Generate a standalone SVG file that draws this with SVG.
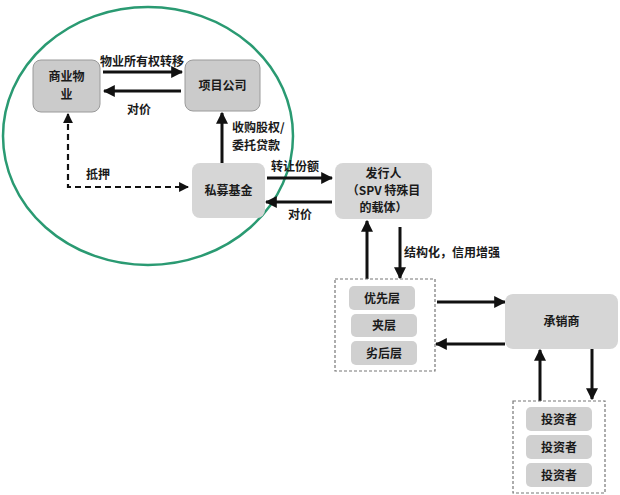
<svg xmlns="http://www.w3.org/2000/svg" width="620" height="495" viewBox="0 0 620 495">
<style>
text{font-family:"Noto Sans CJK SC","Liberation Sans",sans-serif;font-size:12px;font-weight:bold;fill:#1a1a1a;text-anchor:middle}
.lbl{text-anchor:start}
.n{fill:#cbcbcb;stroke:#9a9a9a;stroke-width:1}
.n2{fill:#d6d6d6;stroke:none}
.t{fill:#d0d0d0;stroke:none}
.box{fill:none;stroke:#777;stroke-width:1.2;stroke-dasharray:3,2}
.c{stroke:#111;stroke-width:3;fill:none}
.d{stroke:#111;stroke-width:2.2;fill:none;stroke-dasharray:6,4}
</style>
<defs>
<marker id="ah" viewBox="0 0 10 10" refX="9" refY="5" markerWidth="4" markerHeight="4" orient="auto" markerUnits="strokeWidth"><path d="M0,0L10,5L0,10z" fill="#111"/></marker>
<marker id="ahs" viewBox="0 0 10 10" refX="9" refY="5" markerWidth="4.5" markerHeight="4.5" orient="auto-start-reverse" markerUnits="strokeWidth"><path d="M0,0L10,5L0,10z" fill="#111"/></marker>
</defs>
<rect width="620" height="495" fill="#fff"/>
<ellipse cx="148" cy="136" rx="145" ry="129" fill="none" stroke="#2a9a72" stroke-width="2.5"/>
<g id="connectors">
<line class="c" x1="103" y1="72" x2="182" y2="72" marker-end="url(#ah)"/>
<line class="c" x1="181" y1="91" x2="104" y2="91" marker-end="url(#ah)"/>
<line class="c" x1="222" y1="163" x2="222" y2="113" marker-end="url(#ah)"/>
<polyline class="d" points="68,114 68,187 188,187" marker-start="url(#ahs)" marker-end="url(#ahs)"/>
<line class="c" x1="267" y1="178" x2="332" y2="178" marker-end="url(#ah)"/>
<line class="c" x1="332" y1="202" x2="266" y2="202" marker-end="url(#ah)"/>
<line class="c" x1="367" y1="279" x2="367" y2="221" marker-end="url(#ah)"/>
<line class="c" x1="400" y1="227" x2="400" y2="278" marker-end="url(#ah)"/>
<line class="c" x1="437" y1="302" x2="505" y2="302" marker-end="url(#ah)"/>
<line class="c" x1="505" y1="344" x2="436" y2="344" marker-end="url(#ah)"/>
<line class="c" x1="540" y1="401" x2="540" y2="350" marker-end="url(#ah)"/>
<line class="c" x1="592" y1="349" x2="592" y2="399" marker-end="url(#ah)"/>
<text class="lbl" x="100" y="66">物业所有权转移</text>
<text class="lbl" x="127" y="114">对价</text>
<text class="lbl" x="232" y="132">收购股权/</text>
<text class="lbl" x="232" y="150">委托贷款</text>
<text class="lbl" x="86" y="179">抵押</text>
<text class="lbl" x="271" y="171">转让份额</text>
<text class="lbl" x="288" y="219">对价</text>
<text class="lbl" x="404" y="257">结构化，信用增强</text>
</g>
<g id="n-property">
<rect class="n" x="33" y="60" width="67" height="52" rx="8"/>
<text x="66.5" y="81">商业物</text>
<text x="66.5" y="99">业</text>
</g>
<g id="n-project">
<rect class="n" x="185" y="60" width="75" height="51" rx="8"/>
<text x="222.5" y="90">项目公司</text>
</g>
<g id="n-fund">
<rect class="n2" x="192" y="163" width="73" height="55" rx="8"/>
<text x="228.5" y="195">私募基金</text>
</g>
<g id="n-issuer">
<rect class="n2" x="335" y="163" width="97" height="56" rx="8"/>
<text x="383.5" y="178" font-weight="normal">发行人</text>
<text x="383.5" y="195">（SPV 特殊目</text>
<text x="383.5" y="212">的载体）</text>
</g>
<g id="n-tranches">
<rect class="box" x="335" y="279" width="100" height="92"/>
<g id="n-senior"><rect class="t" x="349" y="286" width="66" height="24" rx="5"/><text x="382" y="303">优先层</text></g>
<g id="n-mezz"><rect class="t" x="351" y="314" width="66" height="23" rx="5"/><text x="384" y="330">夹层</text></g>
<g id="n-sub"><rect class="t" x="351" y="341" width="66" height="24" rx="5"/><text x="384" y="358">劣后层</text></g>
</g>
<g id="n-underwriter">
<rect class="n2" x="505" y="294" width="113" height="55" rx="8"/>
<text x="561.5" y="326">承销商</text>
</g>
<g id="n-investors">
<rect class="box" x="513" y="401" width="92" height="92"/>
<g id="n-inv1"><rect class="t" x="526" y="407" width="66" height="24" rx="5"/><text x="559" y="424">投资者</text></g>
<g id="n-inv2"><rect class="t" x="526" y="435" width="66" height="24" rx="5"/><text x="559" y="452">投资者</text></g>
<g id="n-inv3"><rect class="t" x="526" y="463" width="66" height="24" rx="5"/><text x="559" y="480">投资者</text></g>
</g>
</svg>
